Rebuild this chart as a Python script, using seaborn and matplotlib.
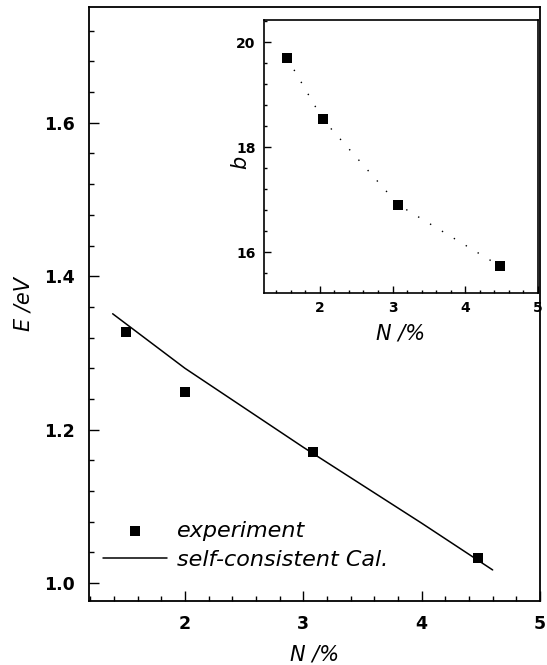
import matplotlib
matplotlib.use("Agg")
import matplotlib.pyplot as plt
import seaborn as sns
import pandas as pd
from matplotlib.ticker import MultipleLocator

# ---- data ----
exp_N = [1.50, 2.00, 3.08, 4.48]
exp_E = [1.327, 1.249, 1.171, 1.033]
cal_N = [1.39, 2.00, 3.00, 4.00, 4.60]
cal_E = [1.351, 1.280, 1.177, 1.078, 1.017]
ins_N = [1.55, 2.04, 3.08, 4.48]
ins_b = [19.70, 18.53, 16.90, 15.73]
legend_labels = ["experiment", "self-consistent Cal."]

sns.set_theme(style="white")
plt.rcParams["font.family"] = ["DejaVu Sans"]
for k in ["axes.edgecolor", "text.color", "axes.labelcolor", "xtick.color", "ytick.color"]:
    plt.rcParams[k] = "black"

fig = plt.figure(figsize=(5.47, 6.65), dpi=100)
ax = fig.add_axes([89 / 547, 1 - 601 / 665, 451 / 547, 594 / 665])

df_exp = pd.DataFrame({"N": exp_N, "E": exp_E})
df_cal = pd.DataFrame({"N": cal_N, "E": cal_E})

sns.lineplot(data=df_cal, x="N", y="E", ax=ax, color="black", linewidth=1.1,
             label=legend_labels[1], sort=True, estimator=None)
sns.scatterplot(data=df_exp, x="N", y="E", ax=ax, marker="s", s=60, color="black",
                edgecolor="black", linewidth=0, label=legend_labels[0], zorder=3)

ax.set_xlim(1.19, 5.0)
ax.set_ylim(0.9765, 1.751)
ax.xaxis.set_major_locator(MultipleLocator(1))
ax.xaxis.set_minor_locator(MultipleLocator(0.2))
ax.yaxis.set_major_locator(MultipleLocator(0.2))
ax.yaxis.set_minor_locator(MultipleLocator(0.04))
ax.tick_params(which="both", direction="in", bottom=True, left=True, top=False, right=False,
               color="black", width=1.0)
ax.tick_params(which="major", length=7, labelsize=12.5, pad=10)
ax.tick_params(which="minor", length=3.5)
for lab in ax.get_xticklabels() + ax.get_yticklabels():
    lab.set_fontweight("bold")
for sp in ax.spines.values():
    sp.set_linewidth(1.3)
    sp.set_color("black")
ax.set_xlabel("N /%", fontsize=15, fontstyle="italic", labelpad=8)
ax.set_ylabel("E /eV", fontsize=15, fontstyle="italic", labelpad=8)

h, l = ax.get_legend_handles_labels()
order = [l.index(legend_labels[0]), l.index(legend_labels[1])]
ax.legend([h[i] for i in order], [l[i] for i in order], loc="lower left",
          bbox_to_anchor=(0.03, 0.052), frameon=False,
          prop={"size": 16, "style": "italic"}, handlelength=2.9,
          handletextpad=0.45, labelspacing=0.42, borderpad=0, borderaxespad=0)

# ---- inset ----
ins = fig.add_axes([264 / 547, 1 - 293 / 665, 274 / 547, 273 / 665])
df_ins = pd.DataFrame({"N": ins_N, "b": ins_b})
sns.lineplot(data=df_ins, x="N", y="b", ax=ins, color="black", linewidth=1.0,
             linestyle=(0, (1, 9)), estimator=None)
sns.scatterplot(data=df_ins, x="N", y="b", ax=ins, marker="s", s=45, color="black",
                edgecolor="black", linewidth=0, zorder=3)
ins.set_xlim(1.233, 5.0)
ins.set_ylim(15.22, 20.42)
ins.xaxis.set_major_locator(MultipleLocator(1))
ins.xaxis.set_minor_locator(MultipleLocator(0.2))
ins.yaxis.set_major_locator(MultipleLocator(2))
ins.yaxis.set_minor_locator(MultipleLocator(0.4))
ins.tick_params(which="both", direction="in", bottom=True, left=True, top=False, right=False,
                color="black", width=1.0)
ins.tick_params(which="major", length=5, labelsize=10, pad=6)
ins.tick_params(which="minor", length=2.5)
for lab in ins.get_xticklabels() + ins.get_yticklabels():
    lab.set_fontweight("bold")
for sp in ins.spines.values():
    sp.set_linewidth(1.2)
    sp.set_color("black")
ins.set_xlabel("N /%", fontsize=15, fontstyle="italic", labelpad=6)
ins.set_ylabel("b", fontsize=15, fontstyle="italic")
ins.yaxis.set_label_coords(-0.051, 0.48)

fig.savefig("out.png", dpi=100)
